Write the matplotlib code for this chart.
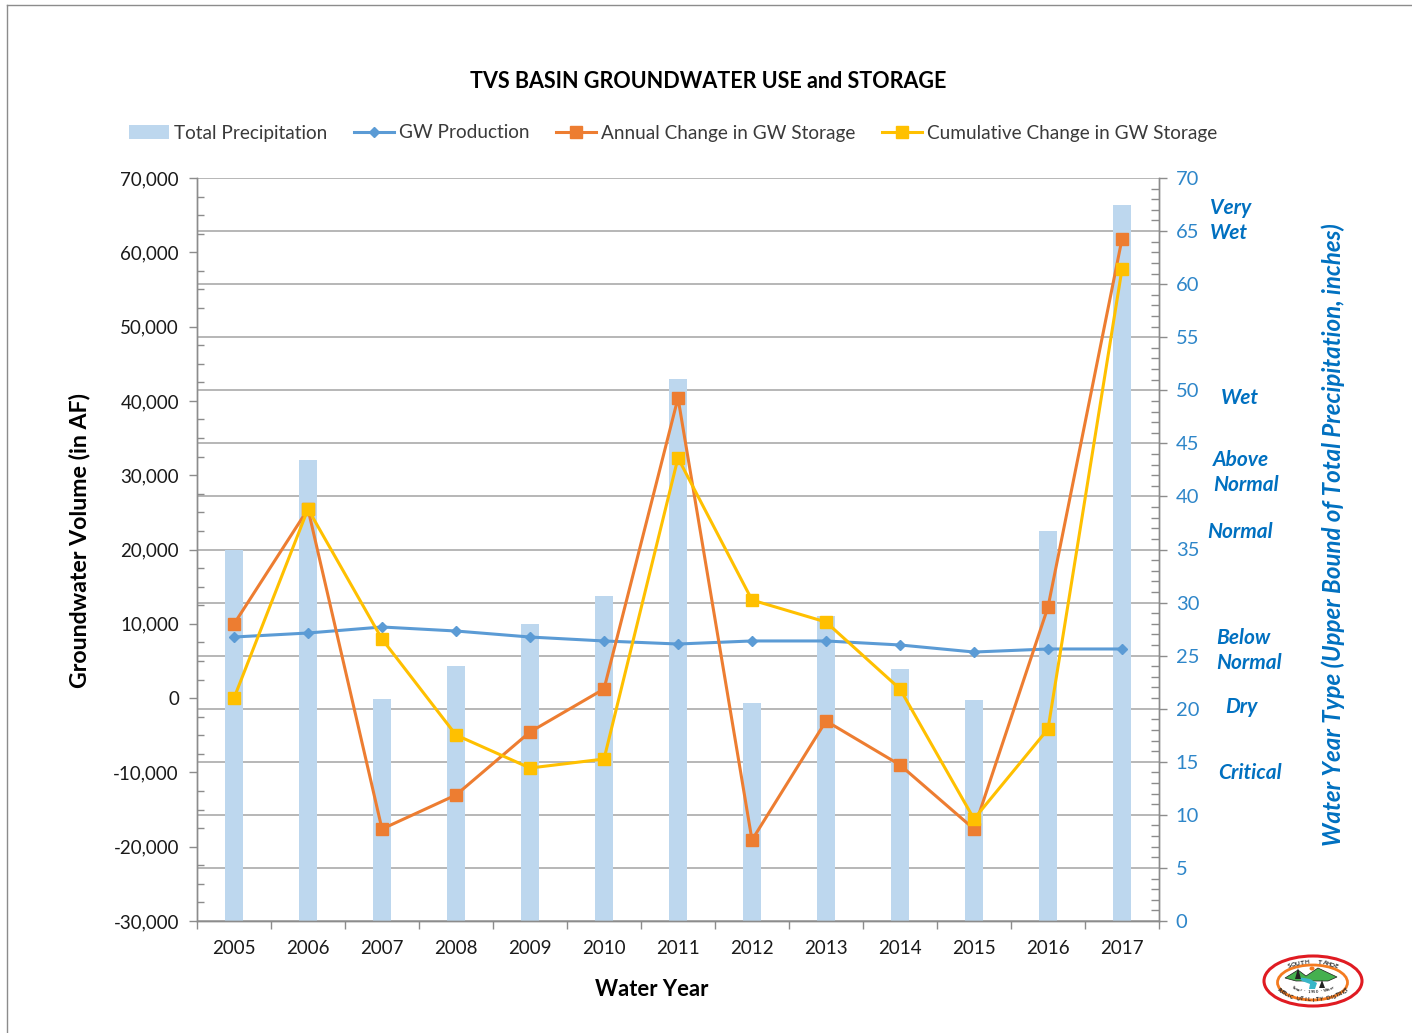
import math

import matplotlib
matplotlib.use("Agg")
import matplotlib.pyplot as plt
from matplotlib.patches import Ellipse, Polygon
from matplotlib.ticker import FuncFormatter, MultipleLocator

years = [2005, 2006, 2007, 2008, 2009, 2010, 2011, 2012, 2013, 2014, 2015, 2016, 2017]
precip = [35.0, 43.4, 20.9, 24.0, 28.0, 30.6, 51.1, 20.5, 28.7, 23.7, 20.8, 36.7, 67.5]
gw_production = [8220, 8760, 9570, 9030, 8220, 7690, 7280, 7690, 7690, 7150, 6200, 6610, 6610]
annual_change = [9970, 25450, -17620, -13040, -4560, 1230, 40390, -19100, -3080, -9000, -17620, 12260, 61790]
cumulative_change = [0, 25450, 7950, -4970, -9410, -8200, 32320, 13200, 10240, 1230, -16270, -4160, 57750]

water_types = ["Very\nWet", "Wet", "Above\nNormal", "Normal", "Below\nNormal", "Dry", "Critical"]
water_type_y = [220.5, 398, 472.5, 532, 650.5, 707, 773]
water_type_x = [1210, 1221, 1213, 1207, 1216, 1225, 1218]

COR_BARRA = "#bdd7ee"
COR_GW = "#5b9bd5"
COR_ANUAL = "#ed7d31"
COR_CUM = "#ffc000"
COR_AZUL = "#0070c0"
COR_TICK = "#2e86c9"
COR_EIXO = "#8c8c8c"
COR_GRADE = "#a3a3a3"

W, H = 1412, 1033
plt.rcParams["font.family"] = ["Lato", "DejaVu Sans"]


def _texto_em_arco(ax, texto, cx, cy, rx, ry, t_ini, t_fim, fontsize):
    # uma letra por vez ao longo da elipse do logo
    n = len(texto)
    for i, letra in enumerate(texto):
        t = math.radians(t_ini + (t_fim - t_ini) * i / (n - 1))
        sentido = 1 if t_fim > t_ini else -1
        rot = math.degrees(math.atan2(sentido * ry * math.cos(t), -sentido * rx * math.sin(t)))
        ax.text(cx + rx * math.cos(t), cy - ry * math.sin(t), letra, rotation=rot, rotation_mode="anchor",
                ha="center", va="center", fontsize=fontsize, fontweight="bold", color="#222222")


fig = plt.figure(figsize=(W / 100, H / 100), dpi=100)
ax = fig.add_axes([197 / W, 1 - 921 / H, (1159 - 197) / W, (921 - 178) / H])
ax2 = ax.twinx()

x = list(range(len(years)))

# barras e grade ficam no eixo de baixo, linhas no de cima
ax.set_zorder(2)
ax2.set_zorder(1)
ax.patch.set_visible(False)

ax2.bar(x, precip, width=0.255, color=COR_BARRA, zorder=2, label="Total Precipitation")
ax2.set_ylim(0, 70)
ax2.yaxis.set_major_locator(MultipleLocator(5))
ax2.yaxis.set_minor_locator(MultipleLocator(1))
ax2.grid(axis="y", which="major", color=COR_GRADE, linewidth=1.1)
ax2.set_axisbelow(True)
ax2.tick_params(axis="y", which="major", direction="out", length=6, width=1, color=COR_EIXO,
                labelcolor=COR_TICK, labelsize=14.5, pad=6)
ax2.tick_params(axis="y", which="minor", direction="in", length=6, width=1, color=COR_EIXO)

ax.plot(x, gw_production, "-D", color=COR_GW, linewidth=2.2, markersize=5, label="GW Production", zorder=4)
ax.plot(x, annual_change, "-s", color=COR_ANUAL, linewidth=2.2, markersize=8, label="Annual Change in GW Storage", zorder=5)
ax.plot(x, cumulative_change, "-s", color=COR_CUM, linewidth=2.2, markersize=8, label="Cumulative Change in GW Storage", zorder=6)

ax.set_xlim(-0.5, len(years) - 0.5)
ax.set_ylim(-30000, 70000)
ax.yaxis.set_major_locator(MultipleLocator(10000))
ax.yaxis.set_minor_locator(MultipleLocator(2500))
ax.yaxis.set_major_formatter(FuncFormatter(lambda v, _: f"{v:,.0f}"))
ax.tick_params(axis="y", which="major", direction="out", length=6, width=1, color=COR_EIXO,
               labelcolor="#1a1a1a", labelsize=13.5, pad=7)
ax.tick_params(axis="y", which="minor", direction="in", length=5, width=1, color=COR_EIXO)

ax.set_xticks(x)
ax.set_xticklabels(years)
ax.set_xticks([i - 0.5 for i in range(len(years) + 1)], minor=True)
ax.tick_params(axis="x", which="major", length=0, labelsize=13.5, labelcolor="#1a1a1a", pad=14)
ax.tick_params(axis="x", which="minor", direction="out", length=6, width=1, color=COR_EIXO)

for a in (ax, ax2):
    for lado in a.spines.values():
        lado.set_color(COR_EIXO)
        lado.set_linewidth(1.0)
    a.spines["top"].set_visible(False)

fig.text(708 / W, 1 - 82 / H, "TVS BASIN GROUNDWATER USE and STORAGE", ha="center", va="center",
         fontsize=15.5, fontweight="bold", color="black")
fig.text(652 / W, 1 - 989 / H, "Water Year", ha="center", va="center", fontsize=15.8, fontweight="bold")
fig.text(80 / W, 1 - 540 / H, "Groundwater Volume (in AF)", rotation=90, ha="center", va="center",
         fontsize=16.7, fontweight="bold")
fig.text(1333 / W, 1 - 535 / H, "Water Year Type (Upper Bound of Total Precipitation, inches)", rotation=90,
         ha="center", va="center", fontsize=17.4, fontweight="bold", style="italic", color=COR_AZUL)

for nome, tx, ty in zip(water_types, water_type_x, water_type_y):
    fig.text(tx / W, 1 - ty / H, nome, ha="left", va="center", fontsize=15, fontweight="bold",
             style="italic", color=COR_AZUL, linespacing=1.34)

h1, l1 = ax2.get_legend_handles_labels()
h2, l2 = ax.get_legend_handles_labels()
fig.legend(h1 + h2, l1 + l2, loc="center", bbox_to_anchor=(673 / W, 1 - 133 / H), ncol=4, frameon=False,
           fontsize=13.7, labelcolor="#3a3a3a", handlelength=2.1, handletextpad=0.25, columnspacing=1.42)

# logo do distrito
logo = fig.add_axes([1258 / W, 1 - 1012 / H, 110 / W, 62 / H])
logo.set_xlim(0, 110)
logo.set_ylim(62, 0)
logo.axis("off")
logo.add_patch(Ellipse((55, 31), 98, 50, facecolor="white", edgecolor="#e01b22", linewidth=2.2))
logo.add_patch(Ellipse((54.5, 32.5), 70, 35, facecolor="white", edgecolor="#f47b20", linewidth=2.0))
logo.add_patch(Ellipse((54, 18.5), 5, 4, facecolor="#f47b20", edgecolor="none"))
logo.add_patch(Polygon([[27, 28], [40, 20], [48, 26], [60, 18], [79, 27], [70, 31], [38, 31]],
                       facecolor="#45b04f", edgecolor="#1c1c1c", linewidth=0.5))
logo.add_patch(Polygon([[40, 27], [52, 29], [59, 33], [57, 39], [51, 39], [52, 34], [44, 31]],
                       facecolor="#38b6c8", edgecolor="none"))
logo.add_patch(Polygon([[40, 18], [43, 29], [37, 29]], facecolor="#222222", edgecolor="none"))
logo.add_patch(Polygon([[64, 30], [67, 38], [61, 38]], facecolor="#222222", edgecolor="none"))
_texto_em_arco(logo, "SOUTH  TAHOE", 55, 32, 37, 20, 128, 52, 4.6)
_texto_em_arco(logo, "Sewer · 1950 · Water", 55, 30, 27, 12, 222, 318, 3.0)
_texto_em_arco(logo, "PUBLIC UTILITY DISTRICT", 55, 32, 38, 18, 205, 335, 3.9)

# moldura cortada da captura de tela
fig.add_artist(plt.Line2D([7 / W, 7 / W], [0, 1 - 5 / H], color="#8c8c8c", linewidth=1))
fig.add_artist(plt.Line2D([7 / W, 1], [1 - 5 / H, 1 - 5 / H], color="#8c8c8c", linewidth=1))

fig.savefig("out.png", dpi=100)
